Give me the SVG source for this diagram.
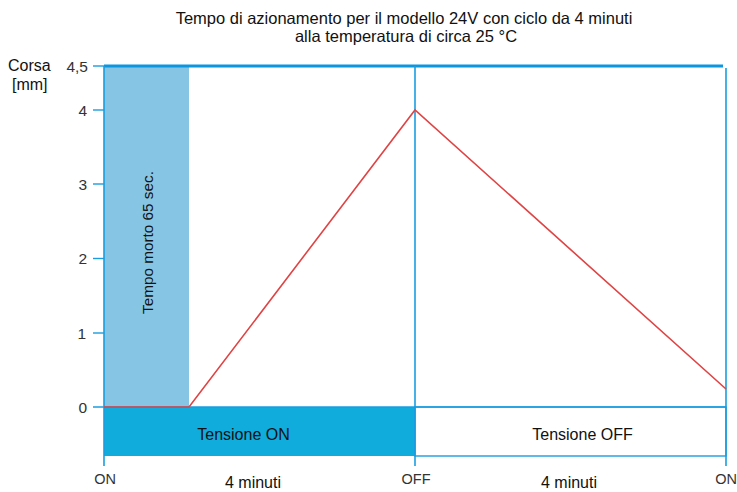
<svg xmlns="http://www.w3.org/2000/svg" width="737" height="492" viewBox="0 0 737 492">
<style>
text{font-family:"Liberation Sans",Arial,sans-serif;fill:#111}
.ax{stroke:#1a9de0;stroke-width:1.6;fill:none}
.tk{stroke:#1a9de0;stroke-width:1.4}
.yl{font-size:15.5px;fill:#333;text-anchor:end}
.xl{font-size:14.5px;fill:#333;text-anchor:middle}
.lb{font-size:16.3px;text-anchor:middle}
</style>
<rect width="737" height="492" fill="#fff"/>
<g id="title">
<text x="404" y="24" class="lb" style="font-size:16.5px">Tempo di azionamento per il modello 24V con ciclo da 4 minuti</text>
<text x="406" y="42" class="lb" style="font-size:16.5px">alla temperatura di circa 25 °C</text>
</g>
<g id="dead-time">
<rect x="104" y="66" width="85" height="341" fill="#86c5e3"/>
<text transform="translate(153,242.5) rotate(-90)" class="lb" style="font-size:15.3px">Tempo morto 65 sec.</text>
</g>
<g id="tensione-on">
<rect x="104" y="407" width="311" height="49" fill="#10acdc"/>
<text x="243.5" y="440" class="lb" style="font-size:16px">Tensione ON</text>
</g>
<g id="tensione-off">
<rect x="415" y="407" width="311" height="49" fill="#fff" stroke="#1a9de0" stroke-width="1.4"/>
<text x="582.5" y="440" class="lb" style="font-size:16px">Tensione OFF</text>
</g>
<g id="axes">
<line x1="104" y1="66" x2="723" y2="66" stroke="#0a96e0" stroke-width="3"/>
<line class="ax" x1="104" y1="66" x2="104" y2="466"/>
<line class="ax" x1="415" y1="66" x2="415" y2="466"/>
<line class="ax" x1="726" y1="68" x2="726" y2="466"/>
<line class="ax" x1="93" y1="407" x2="726" y2="407"/>
<line class="tk" x1="93" y1="66" x2="104" y2="66"/>
<line class="tk" x1="93" y1="110" x2="104" y2="110"/>
<line class="tk" x1="93" y1="184" x2="104" y2="184"/>
<line class="tk" x1="93" y1="258.5" x2="104" y2="258.5"/>
<line class="tk" x1="93" y1="333" x2="104" y2="333"/>
</g>
<g id="labels">
<text x="8" y="71" style="font-size:16px">Corsa</text>
<text x="12" y="90" style="font-size:16px">[mm]</text>
<text x="88" y="72" class="yl">4,5</text>
<text x="87" y="115.5" class="yl">4</text>
<text x="87" y="189.5" class="yl">3</text>
<text x="87" y="264" class="yl">2</text>
<text x="86" y="338.5" class="yl">1</text>
<text x="87" y="412.5" class="yl">0</text>
<text x="105" y="484" class="xl">ON</text>
<text x="416" y="484" class="xl">OFF</text>
<text x="726" y="484" class="xl">ON</text>
<text x="253" y="488" class="lb" style="font-size:16px">4 minuti</text>
<text x="569" y="488" class="lb" style="font-size:16px">4 minuti</text>
</g>
<g id="connectors">
<polyline points="104,407 189,407 415,110 726,389" fill="none" stroke="#e04343" stroke-width="1.6"/>
</g>
</svg>
